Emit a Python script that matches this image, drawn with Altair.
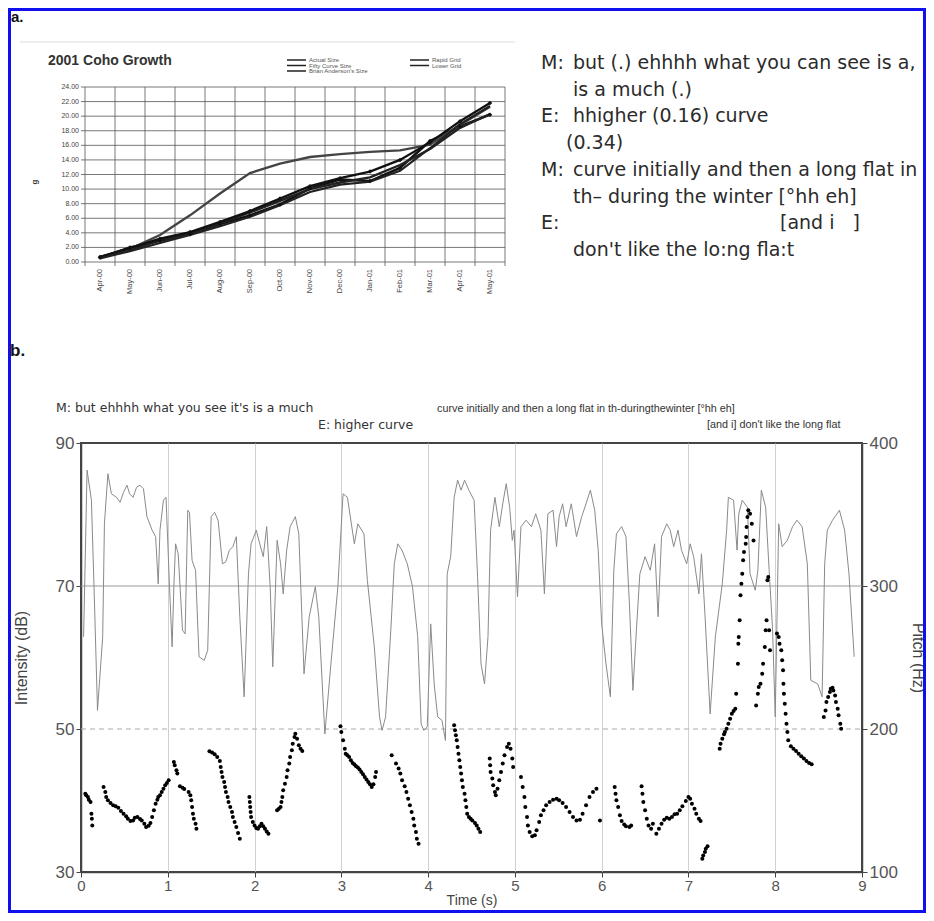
import altair as alt
import pandas as pd

# ---------------- Panel a: 2001 Coho Growth ----------------
months = ["Apr-00", "May-00", "Jun-00", "Jul-00", "Aug-00", "Sep-00", "Oct-00",
          "Nov-00", "Dec-00", "Jan-01", "Feb-01", "Mar-01", "Apr-01", "May-01"]
series_names = ["Actual Size", "Fifty Curve Size", "Brian Anderson's Size", "Rapid Grid", "Lower Grid"]
actual_size = [0.6, 2.0, 2.9, 3.8, 5.2, 6.4, 7.9, 10.1, 11.3, 11.1, 12.9, 16.6, 18.6, 20.2]
fifty_curve_size = [0.6, 1.6, 3.0, 3.9, 5.3, 6.8, 8.4, 10.0, 10.9, 11.6, 13.3, 15.5, 18.4, 20.3]
brian_anderson_size = [0.7, 1.8, 3.7, 6.4, 9.4, 12.2, 13.5, 14.4, 14.8, 15.1, 15.3, 16.1, 18.8, 21.3]
rapid_grid = [0.7, 1.9, 3.2, 4.1, 5.5, 7.0, 8.7, 10.4, 11.5, 12.4, 14.0, 16.4, 19.3, 21.8]
lower_grid = [0.5, 1.5, 2.6, 3.7, 4.9, 6.2, 7.8, 9.6, 10.6, 11.0, 12.5, 15.6, 18.9, 21.4]
coho_ticks = [0, 2, 4, 6, 8, 10, 12, 14, 16, 18, 20, 22, 24]

transcript_speakers = ["M:", "", "E:", "", "M:", "", "E:", ""]
transcript_lines = ["but (.) ehhhh what you can see is a,", "is a much (.)", "hhigher (0.16) curve",
                    "(0.34)", "curve initially and then a long flat in", "th\u2013 during the winter [\u00b0hh eh]",
                    "[and i\u00a0\u00a0\u00a0]", "don't like the lo:ng fla:t"]

# ---------------- Panel b: intensity and pitch ----------------
intensity_time = [
    0.03, 0.07, 0.12, 0.15, 0.19, 0.25, 0.27, 0.31, 0.35, 0.41, 0.45, 0.49, 0.53, 0.56, 0.60, 0.64, 0.68, 0.72, 0.76, 0.82, 0.86, 0.89, 0.91, 0.95, 0.98,
    1.02, 1.05, 1.07, 1.09, 1.12, 1.17, 1.20, 1.23, 1.25, 1.28, 1.32, 1.36, 1.42, 1.46, 1.50, 1.54, 1.58, 1.63, 1.67, 1.71, 1.75, 1.79, 1.83, 1.88, 1.93, 1.96,
    2.02, 2.06, 2.10, 2.14, 2.18, 2.21, 2.26, 2.30, 2.33, 2.37, 2.41, 2.47, 2.51, 2.54, 2.57, 2.63, 2.70, 2.74, 2.81, 2.88, 2.96,
    3.02, 3.07, 3.15, 3.19, 3.26, 3.30, 3.38, 3.44, 3.47, 3.51, 3.57, 3.61, 3.65, 3.70, 3.76, 3.82, 3.88, 3.92, 3.95, 3.99,
    4.03, 4.07, 4.11, 4.16, 4.20, 4.22, 4.26, 4.30, 4.34, 4.38, 4.42, 4.47, 4.53, 4.57, 4.61, 4.65, 4.69, 4.72, 4.77, 4.82, 4.86, 4.90, 4.94, 4.97, 4.99,
    5.03, 5.07, 5.13, 5.19, 5.24, 5.30, 5.34, 5.38, 5.44, 5.48, 5.51, 5.55, 5.59, 5.65, 5.71, 5.77, 5.82, 5.87, 5.92, 5.96,
    6.00, 6.05, 6.10, 6.14, 6.17, 6.23, 6.28, 6.32, 6.36, 6.40, 6.44, 6.50, 6.56, 6.61, 6.65, 6.69, 6.75, 6.79, 6.83, 6.88, 6.92, 6.98,
    7.02, 7.06, 7.12, 7.15, 7.19, 7.25, 7.31, 7.39, 7.44, 7.46, 7.52, 7.56, 7.58, 7.62, 7.68, 7.71, 7.77, 7.80, 7.84, 7.89, 7.93, 7.97,
    8.00, 8.04, 8.08, 8.14, 8.20, 8.25, 8.31, 8.37, 8.41, 8.49, 8.54, 8.57, 8.60, 8.66, 8.74, 8.80, 8.85, 8.91]
intensity_db = [
    62.9, 86.2, 82.0, 69.9, 52.6, 62.9, 78.7, 85.7, 82.9, 82.4, 81.7, 83.1, 84.1, 82.9, 82.4, 83.8, 84.1, 83.6, 79.7, 77.8, 76.9, 70.3, 77.8, 82.0, 82.4,
    69.9, 61.5, 69.9, 75.9, 74.5, 63.8, 63.3, 80.6, 80.3, 73.6, 72.2, 60.1, 59.6, 61.0, 79.7, 80.3, 79.2, 73.1, 73.4, 75.0, 75.5, 76.9, 65.7, 54.5, 71.7, 75.9,
    77.8, 75.9, 74.1, 78.3, 69.9, 58.7, 76.4, 73.1, 68.9, 75.0, 78.3, 79.7, 77.3, 67.5, 57.7, 65.7, 69.9, 65.7, 49.3, 59.1, 69.9,
    82.9, 82.4, 75.9, 78.7, 77.3, 70.8, 61.5, 51.7, 49.8, 51.7, 63.8, 73.1, 75.9, 75.0, 73.1, 69.9, 62.9, 50.7, 49.8, 50.3,
    64.7, 56.3, 51.7, 51.2, 48.4, 71.7, 74.1, 82.4, 84.8, 83.4, 84.8, 83.4, 82.0, 71.3, 59.1, 56.3, 62.9, 77.8, 82.4, 78.3, 81.5, 84.3, 81.0, 76.4, 77.8,
    68.5, 78.3, 79.2, 78.3, 80.1, 77.8, 68.9, 80.1, 80.6, 75.5, 79.7, 81.5, 78.3, 81.5, 76.9, 79.7, 81.5, 83.4, 80.6, 75.0,
    64.7, 59.1, 54.5, 72.2, 77.3, 78.3, 76.9, 67.5, 55.4, 63.8, 71.7, 74.1, 72.2, 75.9, 65.7, 76.9, 78.7, 77.8, 75.5, 77.8, 75.0, 73.1,
    75.9, 74.1, 68.9, 74.5, 66.1, 52.1, 62.9, 70.3, 77.8, 82.4, 82.0, 75.0, 80.1, 82.0, 81.0, 71.7, 69.4, 72.2, 83.4, 81.0, 72.2, 63.8,
    51.7, 78.7, 75.5, 76.4, 78.3, 79.2, 78.3, 73.1, 56.8, 56.3, 54.5, 73.1, 77.8, 79.2, 80.6, 77.8, 71.7, 60.1]

pitch_time = [
    0.05, 0.06, 0.08, 0.09, 0.11, 0.12, 0.125, 0.13,
    0.26, 0.28, 0.29, 0.31, 0.34, 0.37, 0.40, 0.43, 0.46, 0.49, 0.52, 0.54, 0.57, 0.60, 0.62, 0.65, 0.68, 0.70, 0.73, 0.75, 0.78, 0.80, 0.82, 0.84, 0.86, 0.88, 0.89, 0.91, 0.93, 0.95, 0.97, 0.99, 1.01,
    1.07, 1.08, 1.10, 1.11, 1.14, 1.17, 1.19, 1.24, 1.26, 1.27, 1.28, 1.29, 1.30, 1.32, 1.33,
    1.48, 1.51, 1.54, 1.57, 1.60, 1.61, 1.62, 1.63, 1.65, 1.66, 1.67, 1.69, 1.70, 1.72, 1.74, 1.75, 1.77, 1.79, 1.81, 1.83,
    1.94, 1.945, 1.95, 1.955, 1.96, 1.98, 2.00, 2.02, 2.04, 2.06, 2.08, 2.10, 2.12, 2.14, 2.16,
    2.26, 2.28, 2.30, 2.31, 2.32, 2.33, 2.35, 2.37, 2.38, 2.40, 2.41, 2.43, 2.44, 2.46, 2.47, 2.49, 2.51, 2.53, 2.55,
    2.99, 3.00, 3.02, 3.04, 3.05, 3.07, 3.09, 3.11, 3.13, 3.15, 3.17, 3.19, 3.21, 3.23, 3.25, 3.27, 3.29, 3.31, 3.33, 3.35, 3.37, 3.39, 3.40,
    3.58, 3.63, 3.66, 3.68, 3.70, 3.73, 3.75, 3.77, 3.79, 3.81, 3.83, 3.84, 3.86, 3.87, 3.89,
    4.30, 4.31, 4.32, 4.33, 4.34, 4.35, 4.36, 4.37, 4.38, 4.39, 4.40, 4.42, 4.43, 4.44, 4.45, 4.47, 4.49, 4.51, 4.54, 4.56, 4.58, 4.60,
    4.71, 4.715, 4.72, 4.74, 4.75, 4.77, 4.78, 4.80, 4.82, 4.84, 4.86, 4.88, 4.91, 4.93, 4.95, 4.97, 4.98,
    5.07, 5.09, 5.11, 5.12, 5.14, 5.15, 5.17, 5.20, 5.23, 5.25, 5.28, 5.30, 5.33, 5.36, 5.40, 5.44, 5.48, 5.51, 5.55, 5.59, 5.63, 5.67, 5.71, 5.75, 5.78, 5.82, 5.86, 5.90, 5.94, 5.98,
    6.15, 6.16, 6.17, 6.19, 6.21, 6.23, 6.26, 6.28, 6.32, 6.34,
    6.46, 6.47, 6.48, 6.50, 6.52, 6.54, 6.57, 6.59, 6.63, 6.66, 6.69, 6.72, 6.75, 6.78, 6.81, 6.84, 6.87, 6.90, 6.93, 6.97, 7.00, 7.02, 7.04, 7.07, 7.09, 7.12, 7.14,
    7.16, 7.17, 7.19, 7.20, 7.22,
    7.36, 7.37, 7.39, 7.41, 7.42, 7.44, 7.46, 7.48, 7.50, 7.52, 7.54, 7.55,
    7.57, 7.575, 7.58, 7.59, 7.60, 7.61, 7.62, 7.63, 7.64, 7.66, 7.665, 7.67, 7.68, 7.69, 7.71, 7.73, 7.75,
    7.78, 7.80, 7.81, 7.83, 7.85, 7.86, 7.88, 7.89, 7.90, 7.91, 7.92, 7.93, 7.94,
    8.02, 8.04, 8.05, 8.07, 8.08, 8.09, 8.095, 8.10, 8.11, 8.12, 8.13, 8.14, 8.15, 8.18, 8.21, 8.24, 8.27, 8.30, 8.33, 8.36, 8.39, 8.42,
    8.56, 8.58, 8.59, 8.61, 8.63, 8.64, 8.66, 8.67, 8.69, 8.70, 8.72, 8.73, 8.75, 8.76]
pitch_hz = [
    154.8, 153.6, 152.4, 150.6, 149.0, 140.8, 137.3, 132.6,
    159.4, 156.0, 152.4, 150.1, 148.3, 146.6, 145.9, 145.0, 142.6, 140.8, 138.9, 137.3, 135.7, 136.1, 138.0, 138.5, 137.1, 136.1, 133.8, 131.5, 132.4, 134.3, 138.5, 143.1, 147.8, 150.6, 152.4, 153.6, 156.0, 158.3, 160.6, 162.2, 164.1,
    176.9, 174.6, 171.1, 168.8, 159.9, 159.0, 158.0, 156.0, 153.6, 150.1, 145.5, 140.8, 137.3, 133.8, 130.3,
    184.4, 183.5, 182.3, 180.5, 177.6, 173.4, 170.0, 166.4, 162.9, 159.4, 156.0, 152.4, 149.0, 145.5, 142.0, 138.5, 135.0, 131.5, 127.3, 123.3,
    152.4, 149.0, 145.5, 142.0, 138.5, 135.0, 132.6, 130.8, 130.3, 132.0, 133.8, 132.0, 130.3, 128.4, 126.8,
    143.1, 144.3, 145.5, 149.0, 152.4, 157.1, 161.7, 166.4, 171.1, 175.8, 180.4, 185.1, 189.7, 194.4, 196.7, 193.2, 188.6, 186.2, 184.6,
    201.9, 197.9, 192.1, 186.2, 182.7, 181.6, 180.4, 178.1, 176.2, 175.1, 173.9, 173.0, 171.6, 170.0, 168.3, 166.4, 164.6, 162.9, 161.3, 159.4, 161.3, 166.4, 170.0,
    181.6, 175.8, 172.3, 168.8, 164.1, 159.9, 155.9, 151.3, 146.6, 142.0, 137.3, 132.6, 128.0, 123.3, 119.8,
    202.6, 199.1, 195.6, 192.1, 187.4, 182.7, 178.1, 173.4, 168.8, 164.1, 159.4, 154.8, 150.1, 145.5, 140.8, 138.5, 137.3, 136.1, 134.3, 132.6, 130.3, 128.0,
    179.3, 174.6, 170.0, 165.3, 160.6, 156.0, 153.6, 158.3, 164.1, 170.0, 175.8, 181.6, 187.4, 189.7, 186.2, 179.3, 173.4,
    166.4, 159.4, 152.4, 145.5, 138.5, 132.6, 128.0, 125.0, 125.7, 129.2, 135.0, 139.6, 143.1, 146.6, 149.0, 150.6, 151.3, 150.1, 148.3, 145.5, 142.0, 138.5, 136.1, 136.6, 140.8, 146.6, 152.4, 156.0, 158.3, 136.1,
    159.4, 154.8, 150.1, 145.5, 139.6, 135.7, 133.3, 132.0, 131.5, 132.6,
    159.9, 154.8, 149.0, 143.1, 137.3, 132.6, 130.3, 133.8, 126.8, 130.3, 133.8, 136.6, 138.0, 137.3, 138.5, 140.3, 140.8, 143.1, 145.9, 149.7, 152.4, 151.3, 147.8, 144.3, 140.8, 137.3, 135.7,
    109.3, 111.6, 114.0, 116.3, 118.0,
    186.2, 189.7, 193.2, 196.3, 197.9, 200.2, 203.7, 207.2, 210.7, 212.6, 214.2, 224.7,
    245.7, 259.7, 264.3, 276.0, 293.5, 301.6, 308.6, 318.0, 323.8, 329.6, 334.3, 341.3, 348.3, 352.9, 350.6, 343.6, 331.9,
    216.5, 224.7, 229.4, 231.7, 238.7, 245.7, 257.3, 269.0, 276.0, 304.0, 306.3, 269.0, 255.0,
    266.7, 264.3, 259.7, 255.0, 248.0, 241.0, 231.7, 224.7, 217.7, 210.7, 203.7, 197.9, 192.1, 187.9, 186.2, 184.6, 182.7, 180.9, 179.3, 177.6, 176.2, 175.3,
    208.4, 213.0, 218.9, 222.4, 225.9, 228.2, 228.9, 227.0, 223.5, 218.9, 214.2, 209.6, 203.7, 200.2]
time_ticks = [0, 1, 2, 3, 4, 5, 6, 7, 8, 9]
intensity_ticks = [30, 50, 70, 90]
pitch_ticks = [100, 200, 300, 400]
reference_levels = [70, 50]

assert len(intensity_time) == len(intensity_db)
assert len(pitch_time) == len(pitch_hz)

# ---------------- layout helpers (page pixels -> plot-local pixels) ----------------
OX, OY = 81, 443
W, H = 781, 429


def px(x):
    return x - OX


def py(y):
    return y - OY


FONT = "Liberation Sans"

# ---------------- data frames ----------------
coho_vals = [actual_size, fifty_curve_size, brian_anderson_size, rapid_grid, lower_grid]
coho_df = pd.DataFrame([
    {"series": s, "idx": i, "month": m, "size": v}
    for s, vals in zip(series_names, coho_vals) for i, (m, v) in enumerate(zip(months, vals))
])
month_df = pd.DataFrame({"idx": list(range(len(months))), "month": months})
edge_df = pd.DataFrame({"edge": [i - 0.5 for i in range(len(months) + 1)]})
cticks_df = pd.DataFrame({"v": coho_ticks})
legend_df = pd.DataFrame({"name": series_names, "col": [0, 0, 0, 1, 1], "row": [0, 1, 2, 0, 1]})
tr_df = pd.DataFrame({"line": list(range(len(transcript_lines))), "speaker": transcript_speakers,
                      "text": transcript_lines})
int_df = pd.DataFrame({"t": intensity_time, "db": intensity_db})
pitch_df = pd.DataFrame({"t": pitch_time, "hz": pitch_hz})
ref_df = pd.DataFrame({"v": reference_levels})
one = pd.DataFrame({"a": [0]})

cx = alt.Scale(domain=[-0.5, len(months) - 0.5], range=[px(85), px(505)], nice=False, zero=False)
cy = alt.Scale(domain=[0, 24], range=[py(262), py(87)], nice=False, zero=False)
tx = alt.Scale(domain=[0, 9], nice=False, zero=False)
dby = alt.Scale(domain=[30, 90], nice=False, zero=False)
hzy = alt.Scale(domain=[100, 400], nice=False, zero=False)


def label(text, x, y, size, weight="normal", align="left", baseline="alphabetic", angle=0,
          color="#222", font=FONT):
    return alt.Chart(one).mark_text(text=text, align=align, baseline=baseline, fontSize=size,
                                    fontWeight=weight, angle=angle, color=color, font=font).encode(
        x=alt.value(px(x)), y=alt.value(py(y)))


layers = []

# outer blue frame
layers.append(alt.Chart(one).mark_rect(fillOpacity=0, stroke="#1010ee", strokeWidth=3).encode(
    x=alt.value(px(9.5)), x2=alt.value(px(924.5)), y=alt.value(py(9.5)), y2=alt.value(py(911.5))))

# panel labels
layers.append(label("a.", 11, 22, 15, weight="bold", color="#111"))
layers.append(label("b.", 10, 356, 17, weight="bold", color="#111"))

# ---- coho chart ----
layers.append(alt.Chart(one).mark_rule(color="#dddddd", strokeWidth=1).encode(
    x=alt.value(px(20)), x2=alt.value(px(515)), y=alt.value(py(42))))
layers.append(label("2001 Coho Growth", 48, 65, 14, weight="bold", color="#333"))
layers.append(label("g", 35, 182, 8, weight="bold", angle=270, align="center", baseline="middle", color="#333"))

layers.append(alt.Chart(cticks_df).mark_rule(color="#555", strokeWidth=0.8).encode(
    y=alt.Y("v:Q", scale=cy, axis=None), x=alt.value(px(81)), x2=alt.value(px(505))))
layers.append(alt.Chart(edge_df).mark_rule(color="#555", strokeWidth=0.8).encode(
    x=alt.X("edge:Q", scale=cx, axis=None), y=alt.value(py(87)), y2=alt.value(py(266))))
layers.append(alt.Chart(cticks_df).mark_text(align="right", baseline="middle", fontSize=7, font=FONT,
                                             color="#444").encode(
    y=alt.Y("v:Q", scale=cy, axis=None), x=alt.value(px(79)), text=alt.Text("v:Q", format=".2f")))
layers.append(alt.Chart(month_df).mark_text(align="right", baseline="middle", angle=270, fontSize=7.5,
                                            font=FONT, color="#444").encode(
    x=alt.X("idx:Q", scale=cx, axis=None), y=alt.value(py(269)), text="month:N"))

widths = alt.Scale(domain=series_names, range=[2.5, 2.2, 1.0, 2.5, 2.2])
colors = alt.Scale(domain=series_names, range=["#111", "#222", "#444", "#111", "#222"])
layers.append(alt.Chart(coho_df).mark_line().encode(
    x=alt.X("idx:Q", scale=cx, axis=None), y=alt.Y("size:Q", scale=cy, axis=None),
    detail="series:N",
    color=alt.Color("series:N", scale=colors, legend=None),
    strokeWidth=alt.StrokeWidth("series:N", scale=widths, legend=None)))
layers.append(alt.Chart(coho_df).transform_filter(
    alt.FieldOneOfPredicate(field="series", oneOf=["Actual Size", "Rapid Grid"])).mark_point(
    filled=True, size=20, shape="diamond", color="#111", opacity=1).encode(
    x=alt.X("idx:Q", scale=cx, axis=None), y=alt.Y("size:Q", scale=cy, axis=None)))

# legend of coho chart
rowscale = alt.Scale(domain=[0, 2], range=[py(60), py(71)], nice=False, zero=False)
for col, (x0, x1, xt) in enumerate([(287, 306, 309), (410, 429, 432)]):
    sub = alt.Chart(legend_df).transform_filter(alt.datum.col == col)
    layers.append(sub.mark_rule(color="#222", strokeWidth=1.5).encode(
        y=alt.Y("row:Q", scale=rowscale, axis=None), x=alt.value(px(x0)), x2=alt.value(px(x1))))
    layers.append(sub.mark_text(align="left", baseline="middle", fontSize=6, font=FONT, color="#555").encode(
        y=alt.Y("row:Q", scale=rowscale, axis=None), x=alt.value(px(xt)), text="name:N"))

# ---- transcript of panel a ----
linescale = alt.Scale(domain=[0, 7], range=[py(63), py(250)], nice=False, zero=False)
tr_text = dict(align="left", baseline="middle", fontSize=19, font="DejaVu Sans", color="#2b2b2b")
layers.append(alt.Chart(tr_df).mark_text(**tr_text).encode(
    y=alt.Y("line:Q", scale=linescale, axis=None), x=alt.value(px(541)), text="speaker:N"))
layers.append(alt.Chart(tr_df).transform_filter(
    "datum.line != 3 && datum.line != 6").mark_text(**tr_text).encode(
    y=alt.Y("line:Q", scale=linescale, axis=None), x=alt.value(px(573)), text="text:N"))
layers.append(alt.Chart(tr_df).transform_filter("datum.line == 3").mark_text(**tr_text).encode(
    y=alt.Y("line:Q", scale=linescale, axis=None), x=alt.value(px(566)), text="text:N"))
layers.append(alt.Chart(tr_df).transform_filter("datum.line == 6").mark_text(**tr_text).encode(
    y=alt.Y("line:Q", scale=linescale, axis=None), x=alt.value(px(780)), text="text:N"))

# ---- panel b annotations ----
layers.append(label("M: but ehhhh what you see it's is a much", 56, 412, 12.5, color="#333",
                    font="DejaVu Sans"))
layers.append(label("E: higher curve", 318, 429, 12.5, color="#333", font="DejaVu Sans"))
layers.append(label("curve initially and then a long flat in th-duringthewinter [\u00b0hh eh]", 437, 412,
                    10.8, color="#333"))
layers.append(label("[and i] don't like the long flat", 707, 428, 10.8, color="#333"))

# ---- panel b plot ----
layers.append(alt.Chart(ref_df).transform_filter(alt.datum.v == 70).mark_rule(
    color="#999", strokeWidth=1).encode(
    y=alt.Y("v:Q", scale=dby, axis=None), x=alt.value(0), x2=alt.value(W)))
layers.append(alt.Chart(ref_df).transform_filter(alt.datum.v == 50).mark_rule(
    color="#aaa", strokeWidth=1, strokeDash=[5, 4]).encode(
    y=alt.Y("v:Q", scale=dby, axis=None), x=alt.value(0), x2=alt.value(W)))

layers.append(alt.Chart(int_df).mark_line(color="#8a8a8a", strokeWidth=1).encode(
    x=alt.X("t:Q", scale=tx, axis=alt.Axis(values=time_ticks, title="Time (s)", grid=True, orient="bottom",
                                            labelFlush=False, titlePadding=0, labelFontSize=15,
                                            labelPadding=1, titleFontSize=14)),
    y=alt.Y("db:Q", scale=dby, axis=alt.Axis(values=intensity_ticks, title="Intensity (dB)", grid=False,
                                              orient="left", titlePadding=26))))
layers.append(alt.Chart(pitch_df).mark_circle(color="#000", size=16, opacity=1).encode(
    x=alt.X("t:Q", scale=tx, axis=None),
    y=alt.Y("hz:Q", scale=hzy, axis=alt.Axis(values=pitch_ticks, title="Pitch (Hz)", grid=False,
                                              orient="right", titlePadding=12))))

chart = alt.layer(*layers).resolve_scale(x="independent", y="independent").properties(
    width=W, height=H,
    padding={"left": OX - 8, "top": OY - 8, "right": 918 - (OX - 8) - W, "bottom": 41},
    autosize=alt.AutoSizeParams(type="none"),
    background="white",
).configure_view(stroke="#444", strokeWidth=2).configure_axis(
    labelFont=FONT, titleFont=FONT, labelFontSize=17, labelColor="#555", titleFontSize=16,
    titleColor="#444", titleFontWeight="normal", domainColor="#444", tickColor="#444", tickSize=5,
    gridColor="#d0d0d0", gridWidth=1, labelPadding=2, domainWidth=1.5)

chart.save("out.html", embed_options={"renderer": "svg", "actions": False})
